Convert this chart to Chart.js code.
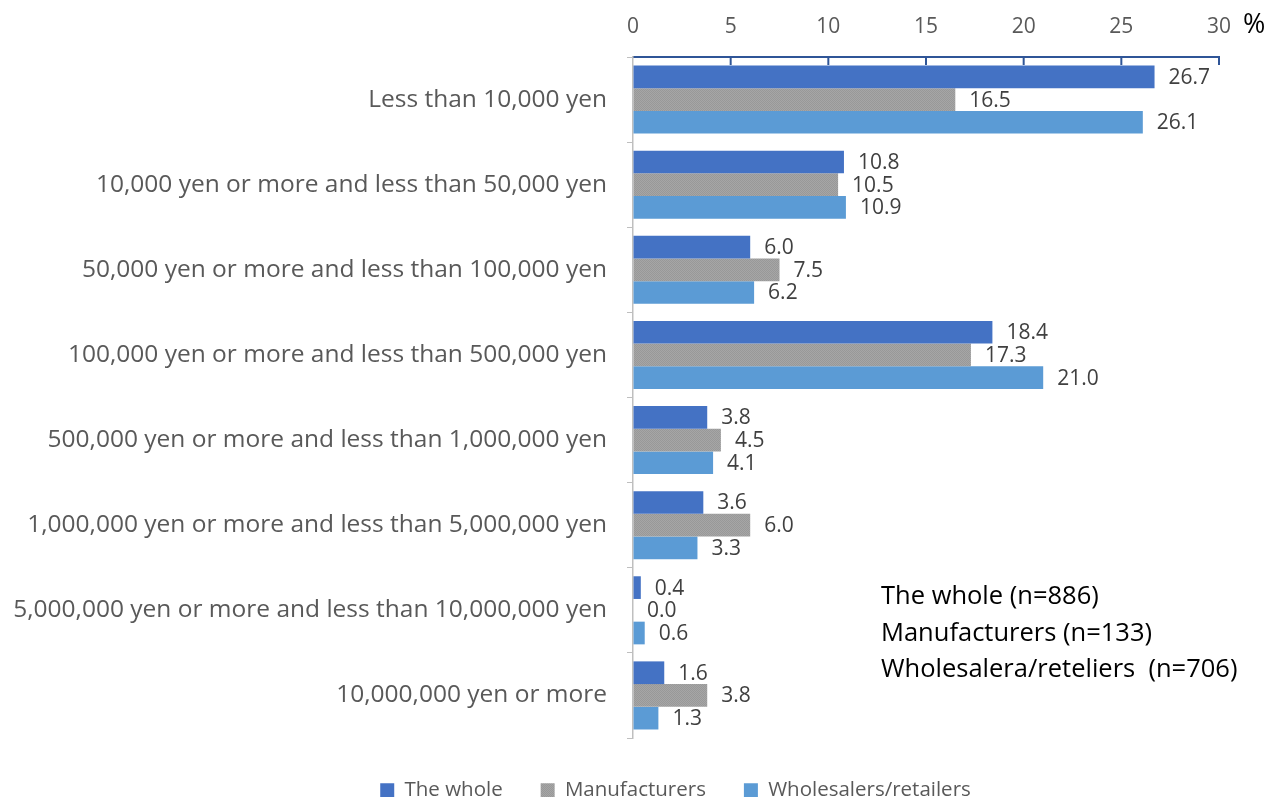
<!DOCTYPE html>
<html>
<head>
<meta charset="utf-8">
<script src="https://cdn.jsdelivr.net/npm/chart.js@4.4.1/dist/chart.umd.min.js"></script>
<style>
  html, body { margin: 0; padding: 0; background: #fff; }
  #wrap { width: 1268px; height: 797px; position: relative; }
</style>
</head>
<body>
<div id="wrap"><canvas id="amountChart"></canvas></div>
<script>
const categories = [
  'Less than 10,000 yen',
  '10,000 yen or more and less than 50,000 yen',
  '50,000 yen or more and less than 100,000 yen',
  '100,000 yen or more and less than 500,000 yen',
  '500,000 yen or more and less than 1,000,000 yen',
  '1,000,000 yen or more and less than 5,000,000 yen',
  '5,000,000 yen or more and less than 10,000,000 yen',
  '10,000,000 yen or more'
];
const seriesNames = ['The whole', 'Manufacturers', 'Wholesalers/retailers'];
const wholeValues = [26.7, 10.8, 6.0, 18.4, 3.8, 3.6, 0.4, 1.6];
const makerValues = [16.5, 10.5, 7.5, 17.3, 4.5, 6.0, 0.0, 3.8];
const retailValues = [26.1, 10.9, 6.2, 21.0, 4.1, 3.3, 0.6, 1.3];
const sampleNotes = ['The whole (n=886)', 'Manufacturers (n=133)', 'Wholesalera/reteliers  (n=706)'];
const xTickStep = 5;
const xMax = 30;

const FONT = '"Open Sans", "Noto Sans", sans-serif';
const GREY_TEXT = '#595959';

// grey bars have a fine dotted texture
function greyPattern() {
  let c = document.createElement('canvas');
  c.width = 2; c.height = 2;
  let g = c.getContext('2d');
  g.fillStyle = '#A6A6A6'; g.fillRect(0, 0, 2, 2);
  g.fillStyle = '#989898'; g.fillRect(0, 0, 1, 1); g.fillRect(1, 1, 1, 1);
  return g.createPattern(c, 'repeat');
}

// value labels just right of each bar
const valueLabels = {
  id: 'valueLabels',
  afterDatasetsDraw(chart) {
    let ctx = chart.ctx;
    ctx.save();
    ctx.font = '21px ' + FONT;
    ctx.fillStyle = '#404040';
    ctx.textAlign = 'left';
    ctx.textBaseline = 'middle';
    chart.data.datasets.forEach((ds, i) => {
      let meta = chart.getDatasetMeta(i);
      meta.data.forEach((bar, j) => {
        ctx.fillText(ds.data[j].toFixed(1), bar.x + 14, bar.y + 1);
      });
    });
    ctx.restore();
  }
};

// inward tick marks on the top axis, unit sign and sample sizes
const extras = {
  id: 'extras',
  afterDraw(chart) {
    let ctx = chart.ctx;
    let xs = chart.scales.x;
    ctx.save();
    ctx.strokeStyle = '#2F5597';
    ctx.lineWidth = 2;
    for (let v = xTickStep; v <= xMax; v += xTickStep) {
      let px = xs.getPixelForValue(v);
      ctx.beginPath();
      ctx.moveTo(px, xs.bottom);
      ctx.lineTo(px, xs.bottom + 8);
      ctx.stroke();
    }
    ctx.fillStyle = '#000';
    ctx.font = '27px ' + FONT;
    ctx.textBaseline = 'middle';
    ctx.textAlign = 'left';
    ctx.fillText('%', xs.right + 24, 25);
    ctx.font = '25.5px ' + FONT;
    sampleNotes.forEach((t, i) => {
      ctx.fillText(t, 881, 597 + i * 36.5);
    });
    ctx.restore();
  }
};

// legend sits low, centred a little right of the canvas middle
const legendFit = {
  id: 'legendFit',
  beforeInit(chart) {
    let fit = chart.legend.fit;
    chart.legend.fit = function () {
      fit.call(this);
      this.height = 59;
    };
  },
  afterLayout(chart) {
    chart.legend.left += 66;
    chart.legend.right += 66;
    chart.legend.top += 4;
    chart.legend.bottom += 4;
  }
};

new Chart(document.getElementById('amountChart'), {
  type: 'bar',
  data: {
    labels: categories,
    datasets: [
      { label: seriesNames[0], data: wholeValues, backgroundColor: '#4472C4' },
      { label: seriesNames[1], data: makerValues, backgroundColor: greyPattern() },
      { label: seriesNames[2], data: retailValues, backgroundColor: '#5B9BD5' }
    ]
  },
  options: {
    indexAxis: 'y',
    responsive: true,
    maintainAspectRatio: false,
    animation: false,
    barPercentage: 1.0,
    categoryPercentage: 0.8,
    layout: { padding: { top: 0, right: 49, bottom: 0, left: 0 } },
    scales: {
      x: {
        position: 'top',
        min: 0,
        max: xMax,
        ticks: { stepSize: xTickStep, color: GREY_TEXT, font: { family: FONT, size: 21 }, padding: 17 },
        grid: { drawOnChartArea: false, drawTicks: false },
        border: { color: '#2F5597', width: 2 },
        afterFit(scale) { scale.height = 57; }
      },
      y: {
        ticks: { color: GREY_TEXT, font: { family: FONT, size: 24.5 }, padding: 20 },
        grid: { drawOnChartArea: false, color: '#BFBFBF', tickLength: 6 },
        border: { color: '#BFBFBF', width: 1.5 },
        afterFit(scale) { scale.width = 633; }
      }
    },
    plugins: {
      legend: {
        position: 'bottom',
        labels: {
          color: GREY_TEXT,
          font: { family: FONT, size: 20.5 },
          boxWidth: 14,
          boxHeight: 14,
          padding: 38
        }
      },
      tooltip: { enabled: false }
    }
  },
  plugins: [valueLabels, extras, legendFit]
});
</script>
</body>
</html>
